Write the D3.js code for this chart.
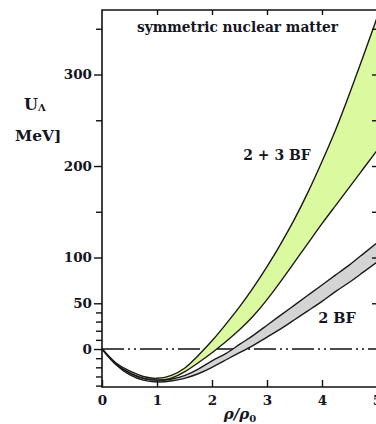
<!DOCTYPE html>
<html>
<head>
<meta charset="utf-8">
<script src="https://cdn.jsdelivr.net/npm/d3@7"></script>
<style>
  html, body { margin: 0; padding: 0; background: #fff; }
  svg { display: block; }
  text { font-family: "DejaVu Serif", "Liberation Serif", serif; font-weight: bold; fill: #151522; }
</style>
</head>
<body>
<svg id="chart" width="376" height="424"></svg>
<script>
// Density grid rho/rho0 and single-particle potential bands (MeV)
const rho = [0, 0.25, 0.5, 0.75, 1.0, 1.25, 1.5, 1.75, 2.0, 2.25, 2.5,
             2.75, 3.0, 3.25, 3.5, 3.75, 4.0, 4.25, 4.5, 4.75, 5.0];

// 2+3 BF band (upper / lower edge)
const band23Upper = [0, -15, -24, -30, -32, -29, -21, -7, 9, 27, 46,
                     67, 90, 115, 142, 172, 205, 240, 279, 320, 362];
const band23Lower = [0, -16, -26, -32, -34, -32, -25, -15, -4, 8, 21,
                     36, 54, 74, 95, 116, 137, 157, 177, 197, 217];

// 2 BF band (upper / lower edge)
const band2Upper = [0, -16, -26, -32, -34, -33, -29, -22, -13, -5, 5,
                    15, 26, 37, 48, 59, 70, 81, 92, 104, 116];
const band2Lower = [0, -17, -28, -34, -36, -35, -32, -27, -20, -12, -4,
                    4, 13, 22, 32, 42, 52, 63, 73, 84, 95];

const xTicks = [0, 1, 2, 3, 4, 5];
const yMajorTicks = [0, 50, 100, 200, 300];
const yMinorTicks = [-40, -30, -20, -10, 10, 20, 30, 40, 150, 250, 350];
const yRightTicks = [50, 100, 150, 200, 250, 300, 350];

const svg = d3.select("#chart");
const plotLeft = 102, plotRight = 377, plotTop = 10, plotBottom = 387;

const x = d3.scaleLinear().domain([0, 5]).range([plotLeft, plotRight]);
const y = d3.scaleLinear().domain([-41.5, 370.5]).range([plotBottom, plotTop]);

svg.append("defs").append("clipPath").attr("id", "plotClip")
  .append("rect").attr("x", plotLeft).attr("y", plotTop)
  .attr("width", plotRight - plotLeft).attr("height", plotBottom - plotTop);

const plot = svg.append("g").attr("clip-path", "url(#plotClip)");

function bandData(lo, hi) {
  return rho.map((r, i) => ({ r, lo: lo[i], hi: hi[i] }));
}

const area = d3.area()
  .x(d => x(d.r)).y0(d => y(d.lo)).y1(d => y(d.hi))
  .curve(d3.curveNatural);
const line = d3.line()
  .x(d => x(d.r)).y(d => y(d.v))
  .curve(d3.curveNatural);

// zero line (dash-dot-dot)
plot.append("line")
  .attr("x1", x(0)).attr("x2", plotRight)
  .attr("y1", y(0)).attr("y2", y(0))
  .attr("stroke", "#111").attr("stroke-width", 1.4)
  .attr("stroke-dasharray", "22,4,2,4,2,4");

// filled bands
plot.append("path").datum(bandData(band2Lower, band2Upper))
  .attr("d", area).attr("fill", "#d4d4d4");
plot.append("path").datum(bandData(band23Lower, band23Upper))
  .attr("d", area).attr("fill", "#dbf99e");

// band edges
[band2Lower, band2Upper, band23Lower, band23Upper].forEach(vals => {
  plot.append("path")
    .datum(rho.map((r, i) => ({ r, v: vals[i] })))
    .attr("d", line)
    .attr("fill", "none").attr("stroke", "#1a1a1a").attr("stroke-width", 1.4);
});

// axes
function styleAxis(g) {
  g.select(".domain").remove();
  g.selectAll(".tick line").attr("stroke", "#111").attr("stroke-width", 1.4);
  g.selectAll(".tick text").attr("fill", "#151522")
    .style("font-family", '"DejaVu Serif", serif')
    .style("font-weight", "bold");
}

svg.append("g").attr("transform", `translate(${plotLeft},0)`)
  .call(d3.axisLeft(y).tickValues(yMinorTicks).tickSize(6).tickFormat(""))
  .call(styleAxis);

svg.append("g").attr("transform", `translate(${plotLeft},0)`)
  .call(d3.axisLeft(y).tickValues(yMajorTicks).tickSize(8).tickPadding(2))
  .call(styleAxis)
  .call(g => g.selectAll(".tick text").attr("font-size", 13.5));

svg.append("g").attr("transform", `translate(${plotRight},0)`)
  .call(d3.axisRight(y).tickValues(yRightTicks).tickSize(-5).tickFormat(""))
  .call(styleAxis);

svg.append("g").attr("transform", `translate(0,${plotBottom})`)
  .call(d3.axisBottom(x).tickValues(xTicks).tickSize(-7).tickPadding(8)
    .tickFormat(d3.format("d")))
  .call(styleAxis)
  .call(g => g.selectAll(".tick text").attr("font-size", 13.5));

svg.append("g").attr("transform", `translate(0,${plotTop})`)
  .call(d3.axisTop(x).tickValues(xTicks.slice(1, -1)).tickSize(-5).tickFormat(""))
  .call(styleAxis);

// frame
svg.append("path")
  .attr("d", `M${plotRight},${plotTop}H${plotLeft}V${plotBottom}H${plotRight}`)
  .attr("fill", "none").attr("stroke", "#111").attr("stroke-width", 1.6);

// labels
svg.append("text").attr("x", 237.5).attr("y", 32)
  .attr("text-anchor", "middle").attr("font-size", 14)
  .attr("textLength", 201).attr("lengthAdjust", "spacingAndGlyphs")
  .text("symmetric nuclear matter");

svg.append("text").attr("x", 277).attr("y", 160)
  .attr("text-anchor", "middle").attr("font-size", 14)
  .text("2 + 3 BF");

svg.append("text").attr("x", 337).attr("y", 323)
  .attr("text-anchor", "middle").attr("font-size", 14.5)
  .text("2 BF");

const ua = svg.append("text").attr("x", 24).attr("y", 110).attr("font-size", 16);
ua.append("tspan").text("U");
ua.append("tspan").attr("font-size", 10).attr("dy", 1).text("Λ");

svg.append("text").attr("x", 15).attr("y", 141).attr("font-size", 15.5)
  .text("MeV]");

const xl = svg.append("text").attr("x", 240).attr("y", 419)
  .attr("text-anchor", "middle").attr("font-size", 15).attr("font-style", "italic");
xl.append("tspan").text("ρ/ρ");
xl.append("tspan").attr("font-size", 10).attr("dy", 3).attr("font-style", "normal").text("0");
</script>
</body>
</html>
